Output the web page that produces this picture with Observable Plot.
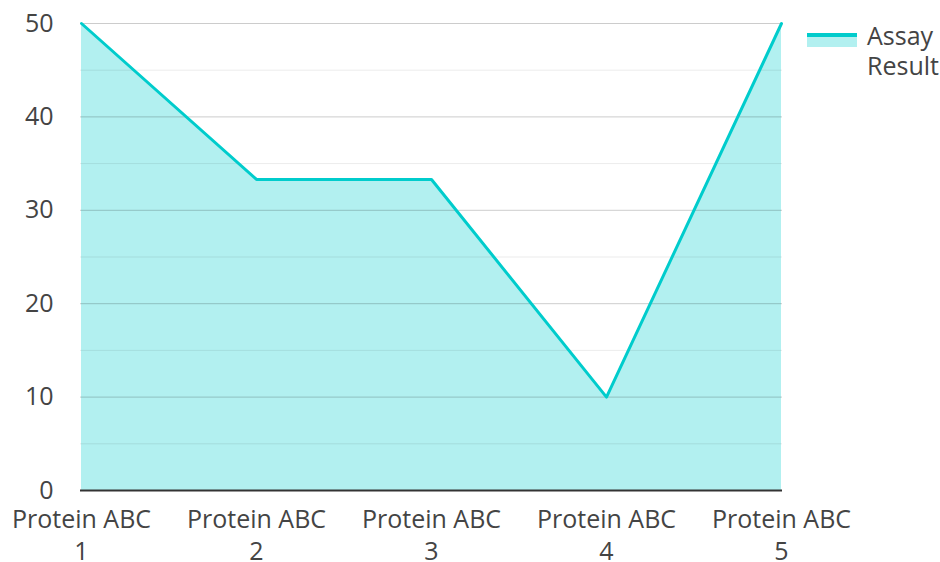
<!DOCTYPE html>
<html>
<head>
<meta charset="utf-8">
<script src="https://cdn.jsdelivr.net/npm/d3@7"></script>
<script src="https://cdn.jsdelivr.net/npm/@observablehq/plot@0.6"></script>
<style>
  html, body { margin: 0; padding: 0; background: #fff; }
  #wrap { position: relative; width: 940px; height: 562px; font-family: "Open Sans", sans-serif; }
  #legend { position: absolute; left: 807px; top: 20px; display: flex; align-items: flex-start; color: #444; font-size: 25px; line-height: 30px; z-index: 2; }
  #legend .sw { width: 50px; height: 14px; margin-top: 13px; margin-right: 10px; background: rgba(0,204,204,0.3); border-top: 4px solid #00cccc; box-sizing: border-box; }
</style>
</head>
<body>
<div id="wrap"><div id="legend"><div class="sw"></div><div>Assay<br>Result</div></div></div>
<script>
const categories = ["Protein ABC 1", "Protein ABC 2", "Protein ABC 3", "Protein ABC 4", "Protein ABC 5"];
const assayResult = [50, 33.3, 33.3, 10, 50];
const majorTicks = [0, 10, 20, 30, 40, 50];
const minorTicks = [5, 15, 25, 35, 45];

const data = categories.map((c, i) => ({ cat: c, value: assayResult[i] }));

const chart = Plot.plot({
  width: 940,
  height: 562,
  marginLeft: 80,
  marginRight: 158,
  marginTop: 23,
  marginBottom: 72,
  style: { fontFamily: "Open Sans, sans-serif", fontSize: "25px", color: "#444", background: "#fff", overflow: "visible" },
  x: { type: "point", domain: categories, padding: 0, label: null },
  y: { domain: [0, 50], label: null },
  marks: [
    Plot.areaY(data, { x: "cat", y: "value", fill: "#00cccc", fillOpacity: 0.3 }),
    Plot.ruleY(minorTicks, { stroke: "#000", strokeOpacity: 0.08, strokeWidth: 1 }),
    Plot.ruleY(majorTicks.filter(d => d > 0), { stroke: "#000", strokeOpacity: 0.2, strokeWidth: 1 }),
    Plot.lineY(data, { x: "cat", y: "value", stroke: "#00cccc", strokeWidth: 3 }),
    Plot.ruleY([0], { stroke: "#333", strokeWidth: 2 }),
    Plot.axisY({ ticks: majorTicks, tickSize: 0, tickPadding: 27, fontSize: 25, fill: "#444" }),
    Plot.axisX({ tickSize: 0, tickPadding: 14, fontSize: 25, fill: "#444", lineHeight: 1.3,
      tickFormat: d => d.replace(/ (\d+)$/, "\n$1") })
  ]
});
document.getElementById("wrap").prepend(chart);
chart.style.position = "absolute";
chart.style.left = "0";
chart.style.top = "0";
</script>
</body>
</html>
